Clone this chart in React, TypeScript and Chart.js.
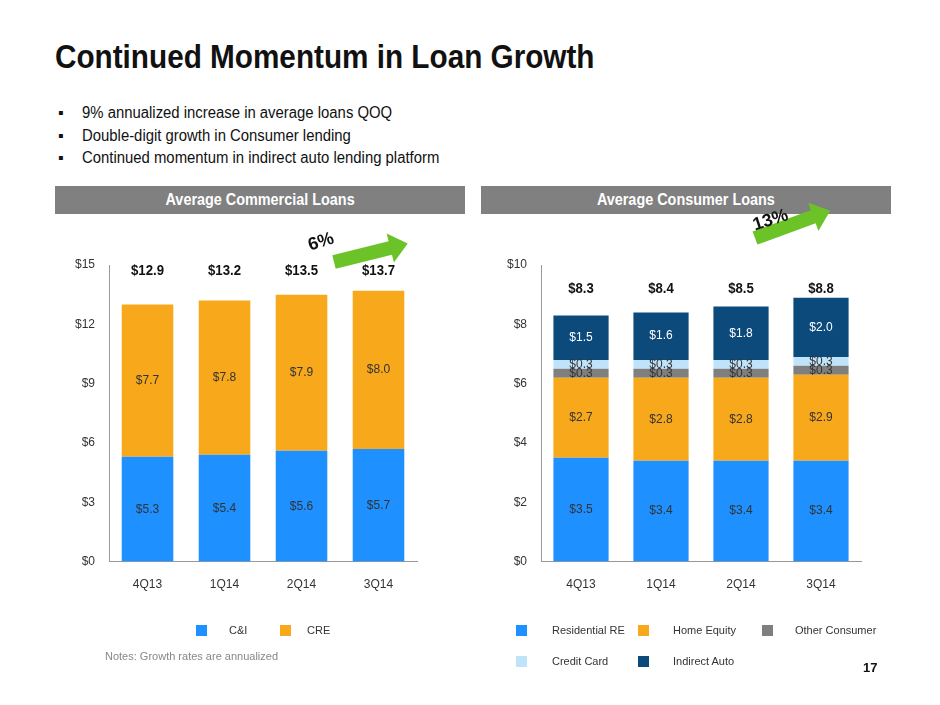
import React, { useEffect, useRef } from "react";
import { Chart, registerables } from "chart.js";
Chart.register(...registerables);

const comCats = ["4Q13", "1Q14", "2Q14", "3Q14"];
const cni = [5.3, 5.4, 5.6, 5.7];
const cre = [7.7, 7.8, 7.9, 8.0];
const comTotals = ["$12.9", "$13.2", "$13.5", "$13.7"];
const comTicks = [0, 3, 6, 9, 12, 15];

const conCats = ["4Q13", "1Q14", "2Q14", "3Q14"];
const resRE = [3.5, 3.4, 3.4, 3.4];
const homeEq = [2.7, 2.8, 2.8, 2.9];
const otherCons = [0.3, 0.3, 0.3, 0.3];
const creditCard = [0.3, 0.3, 0.3, 0.3];
const indirectAuto = [1.5, 1.6, 1.8, 2.0];
const conTotals = ["$8.3", "$8.4", "$8.5", "$8.8"];
const conTicks = [0, 2, 4, 6, 8, 10];

const FONT = "'Liberation Sans', Arial, sans-serif";

function makeLabelPlugin(totals: string[], totalY: number, whiteIdx: number[]) {
  return {
    id: "lbl",
    afterDatasetsDraw(chart: any) {
      const ctx = chart.ctx;
      ctx.save();
      ctx.textAlign = "center";
      ctx.textBaseline = "middle";
      ctx.font = `12px ${FONT}`;
      chart.data.datasets.forEach((ds: any, i: number) => {
        const meta = chart.getDatasetMeta(i);
        meta.data.forEach((el: any, j: number) => {
          const y = (el.y + el.base) / 2;
          ctx.fillStyle = whiteIdx.includes(i) ? "#ffffff" : "#333333";
          ctx.fillText("$" + ds.data[j].toFixed(1), el.x, y);
        });
      });
      ctx.font = `bold 15px ${FONT}`;
      ctx.fillStyle = "#111";
      const meta0 = chart.getDatasetMeta(0);
      const yy = chart.scales.y.getPixelForValue(totalY);
      meta0.data.forEach((el: any, j: number) => {
        ctx.save();
        ctx.translate(el.x, yy);
        ctx.scale(0.88, 1);
        ctx.fillText(totals[j], 0, 0);
        ctx.restore();
      });
      ctx.restore();
    },
  };
}

function StackChart(props: any) {
  const ref = useRef<HTMLCanvasElement>(null);
  useEffect(() => {
    const c = new Chart(ref.current!, {
      type: "bar",
      data: { labels: props.labels, datasets: props.datasets },
      options: {
        animation: false,
        responsive: false,
        maintainAspectRatio: false,
        layout: { padding: props.padding },
        plugins: { legend: { display: false }, tooltip: { enabled: false } },
        datasets: { bar: { barPercentage: props.bp, categoryPercentage: 1 } } as any,
        scales: {
          x: {
            stacked: true,
            grid: { display: false },
            border: { color: "#999" },
            ticks: { color: "#333", font: { size: 12, family: FONT }, padding: 8 },
          },
          y: {
            stacked: true,
            min: 0,
            max: props.max,
            afterBuildTicks: (ax: any) => { ax.ticks = props.ticks.map((v: number) => ({ value: v })); },
            grid: { display: false },
            border: { color: "#999" },
            ticks: { color: "#333", font: { size: 12, family: FONT }, callback: (v: any) => "$" + v, padding: 6 },
          },
        },
      },
      plugins: [props.plugin],
    } as any);
    return () => c.destroy();
  }, []);
  return <canvas ref={ref} width={props.w} height={props.h} style={{ position: "absolute", left: props.x, top: props.y, width: props.w, height: props.h }} />;
}

const Sq = ({ x, y, c }: any) => <div style={{ position: "absolute", left: x, top: y, width: 11, height: 11, background: c }} />;
const Txt = ({ x, y, t, s = 11, col = "#333", st = {} }: any) => (
  <div style={{ position: "absolute", left: x, top: y, fontSize: s, color: col, fontFamily: FONT, whiteSpace: "nowrap", ...st }}>{t}</div>
);

const headerStyle: any = { position: "absolute", top: 186, width: 410, height: 28, background: "#808080", color: "#fff", fontWeight: "bold", fontSize: 16, fontFamily: FONT, textAlign: "center", lineHeight: "28px" };

export default function App() {
  const blue = "#1E90FF", orange = "#F7A81B", gray = "#7F7F7F", light = "#BFE4FA", navy = "#0C4A7C";
  return (
    <div style={{ position: "fixed", left: 0, top: 0, width: 940, height: 705, background: "#fff", overflow: "hidden", fontFamily: FONT }}>
      <div style={{ position: "absolute", left: 55, top: 38, fontSize: 33, fontWeight: "bold", fontFamily: FONT, color: "#111", transform: "scaleX(0.9)", transformOrigin: "0 0", whiteSpace: "nowrap" }}>Continued Momentum in Loan Growth</div>
      {["9% annualized increase in average loans QOQ", "Double-digit growth in Consumer lending", "Continued momentum in indirect auto lending platform"].map((t, i) => (
        <div key={i} style={{ position: "absolute", left: 58, top: 104 + i * 22.5, fontSize: 16, fontFamily: FONT, color: "#111", whiteSpace: "nowrap" }}>
          <span style={{ display: "inline-block", width: 24 }}>▪</span>
          <span style={{ display: "inline-block", transform: "scaleX(0.93)", transformOrigin: "0 0" }}>{t}</span>
        </div>
      ))}
      <div style={{ ...headerStyle, left: 55 }}><span style={{ display: "inline-block", transform: "scaleX(0.9)" }}>Average Commercial Loans</span></div>
      <div style={{ ...headerStyle, left: 481 }}><span style={{ display: "inline-block", transform: "scaleX(0.9)" }}>Average Consumer Loans</span></div>

      <StackChart x={55} y={250} w={410} h={350} padding={{ top: 15, right: 48, left: 14 }} bp={0.67} max={15} ticks={comTicks} labels={comCats}
        plugin={makeLabelPlugin(comTotals, 14.7, [])}
        datasets={[
          { label: "C&I", data: cni, backgroundColor: blue },
          { label: "CRE", data: cre, backgroundColor: orange },
        ]} />
      <StackChart x={481} y={250} w={410} h={350} padding={{ top: 15, right: 30, left: 20 }} bp={0.69} max={10} ticks={conTicks} labels={conCats}
        plugin={makeLabelPlugin(conTotals, 9.2, [4])}
        datasets={[
          { label: "Residential RE", data: resRE, backgroundColor: blue },
          { label: "Home Equity", data: homeEq, backgroundColor: orange },
          { label: "Other Consumer", data: otherCons, backgroundColor: gray },
          { label: "Credit Card", data: creditCard, backgroundColor: light },
          { label: "Indirect Auto", data: indirectAuto, backgroundColor: navy },
        ]} />

      <svg width={940} height={705} style={{ position: "absolute", left: 0, top: 0, pointerEvents: "none" }}>
        <g transform="translate(334,262) rotate(-14)">
          <polygon points="0,-7 58,-7 58,-15 76,0 58,15 58,7 0,7" fill="#6CC327" />
        </g>
        <text x={308} y={248} transform="rotate(-18 318 242)" fontSize={18} fontWeight="bold" fontFamily={FONT} fill="#111">6%</text>
        <g transform="translate(755,238) rotate(-20)">
          <polygon points="0,-7 62,-7 62,-15 80,0 62,15 62,7 0,7" fill="#6CC327" />
        </g>
        <text x={752} y={226} transform="rotate(-18 768 219)" fontSize={18} fontWeight="bold" fontFamily={FONT} fill="#111">13%</text>
      </svg>

      <Sq x={196} y={625} c={blue} /><Txt x={229} y={624} t="C&I" />
      <Sq x={280} y={625} c={orange} /><Txt x={307} y={624} t="CRE" />
      <Sq x={516} y={625} c={blue} /><Txt x={552} y={624} t="Residential RE" />
      <Sq x={638} y={625} c={orange} /><Txt x={673} y={624} t="Home Equity" />
      <Sq x={762} y={625} c={gray} /><Txt x={795} y={624} t="Other Consumer" />
      <Sq x={516} y={656} c={light} /><Txt x={552} y={655} t="Credit Card" />
      <Sq x={638} y={656} c={navy} /><Txt x={673} y={655} t="Indirect Auto" />
      <Txt x={105} y={650} t="Notes: Growth rates are annualized" s={11} col="#888" />
      <Txt x={863} y={660} t="17" s={13} col="#111" st={{ fontWeight: "bold" }} />
    </div>
  );
}
